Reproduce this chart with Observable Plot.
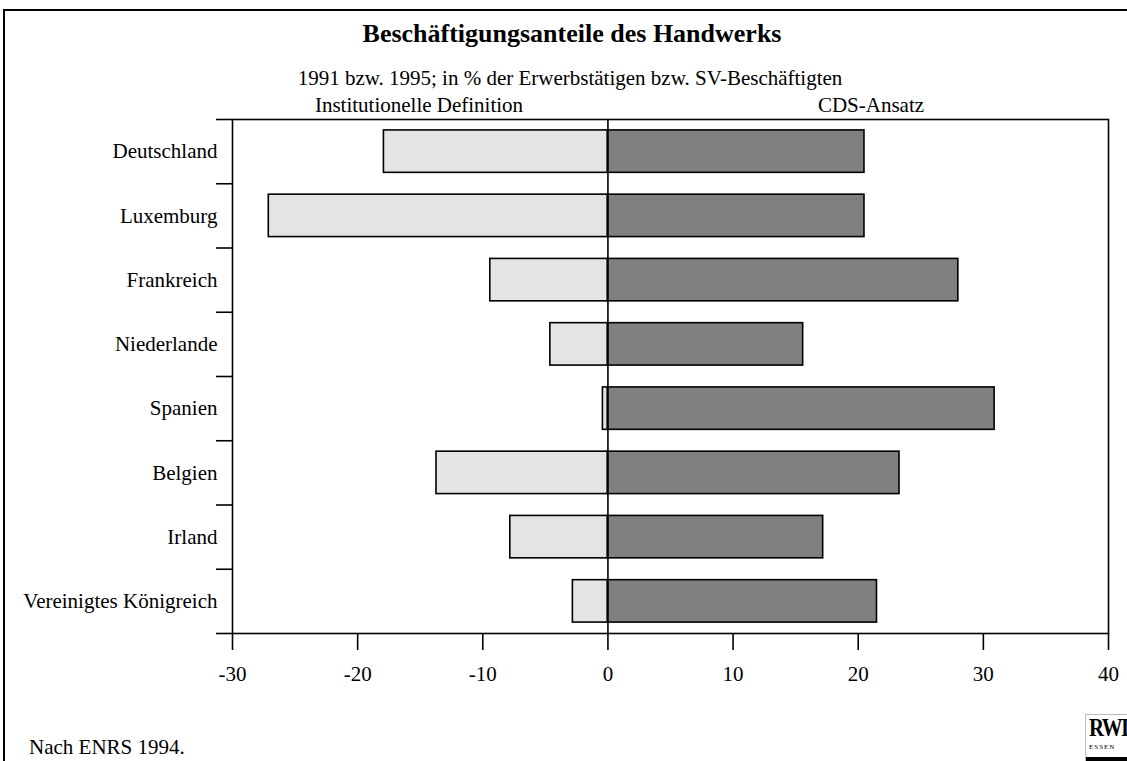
<!DOCTYPE html>
<html>
<head>
<meta charset="utf-8">
<script src="https://cdn.jsdelivr.net/npm/d3@7"></script>
<script src="https://cdn.jsdelivr.net/npm/@observablehq/plot@0.6"></script>
<style>
  html, body { margin: 0; padding: 0; background: #fff; }
  #wrap { position: relative; width: 1127px; height: 761px; overflow: hidden; font-family: "Liberation Serif", "Times New Roman", serif; color: #000; }
  #border { position: absolute; left: 3px; top: 9px; width: 1150px; height: 800px; border: 2px solid #000; box-sizing: border-box; }
  .t { position: absolute; white-space: nowrap; line-height: 1; transform: translateX(-50%); }
  #chart { position: absolute; left: 0; top: 0; }
  #logo { position: absolute; left: 1085px; top: 714px; width: 50px; height: 46px; border-left: 1px solid #bbb; border-top: 1px solid #bbb; }
</style>
</head>
<body>
<div id="wrap">
  <div id="border"></div>
  <div id="chart"></div>
  <div class="t" style="left:572px; top:21px; font-size:26px; font-weight:bold;">Beschäftigungsanteile des Handwerks</div>
  <div class="t" style="left:570px; top:68px; font-size:21px;">1991 bzw. 1995; in % der Erwerbstätigen bzw. SV-Beschäftigten</div>
  <div class="t" style="left:419px; top:95px; font-size:21px;">Institutionelle Definition</div>
  <div class="t" style="left:871px; top:95px; font-size:21px;">CDS-Ansatz</div>
  <div style="position:absolute; left:29px; top:737px; font-size:21px; line-height:1; white-space:nowrap;">Nach ENRS 1994.</div>
  <div id="logo">
    <div style="font-weight:bold; font-size:26px; line-height:1; letter-spacing:-2px; margin-left:3px; transform:scaleX(0.8); transform-origin:left;">RWI</div>
    <div style="font-size:7px; line-height:1; margin-left:3px; margin-top:3px; letter-spacing:1px;">ESSEN</div>
    <div style="position:absolute; left:0; bottom:0; width:50px; height:4px; background:#000;"></div>
  </div>
</div>
<script>
const categories = ["Deutschland", "Luxemburg", "Frankreich", "Niederlande", "Spanien", "Belgien", "Irland", "Vereinigtes Königreich"];
const institutionelle = [-17.9, -27.1, -9.4, -4.6, -0.4, -13.7, -7.8, -2.8];
const cdsAnsatz = [20.5, 20.5, 28.0, 15.6, 30.9, 23.3, 17.2, 21.5];
const xTicks = [-30, -20, -10, 0, 10, 20, 30, 40];

const rows = categories.map((c, i) => ({i, c, inst: institutionelle[i], cds: cdsAnsatz[i]}));

const chart = Plot.plot({
  width: 1127,
  height: 761,
  marginTop: 119,
  marginBottom: 128,
  marginLeft: 232,
  marginRight: 19,
  style: {fontFamily: "'Liberation Serif', 'Times New Roman', serif", fontSize: "21px", color: "#000", background: "transparent"},
  x: {domain: [-30, 40], label: null},
  y: {domain: [0, categories.length], reverse: true, label: null},
  marks: [
    Plot.rect(rows, {x1: 0, x2: "inst", y1: d => d.i + 0.17, y2: d => d.i + 0.83, fill: "#e4e4e4", stroke: "#000", strokeWidth: 1.6}),
    Plot.rect(rows, {x1: 0, x2: "cds", y1: d => d.i + 0.17, y2: d => d.i + 0.83, fill: "#808080", stroke: "#000", strokeWidth: 1.6}),
    Plot.ruleX([0], {stroke: "#000", strokeWidth: 1.6}),
    Plot.frame({stroke: "#000", strokeWidth: 1.6}),
    Plot.axisX({ticks: xTicks, tickSize: 17, tickPadding: 16, tickFormat: d => String(d), strokeWidth: 1.6, fontSize: 21}),
    Plot.axisY({ticks: d3.range(0, categories.length + 1), tickSize: 16, tickFormat: () => "", strokeWidth: 1.6}),
    Plot.axisY({ticks: d3.range(categories.length).map(i => i + 0.5), tickSize: 0, tickPadding: 15, tickFormat: t => categories[Math.floor(t)], fontSize: 21})
  ]
});
document.getElementById("chart").appendChild(chart);
</script>
</body>
</html>
